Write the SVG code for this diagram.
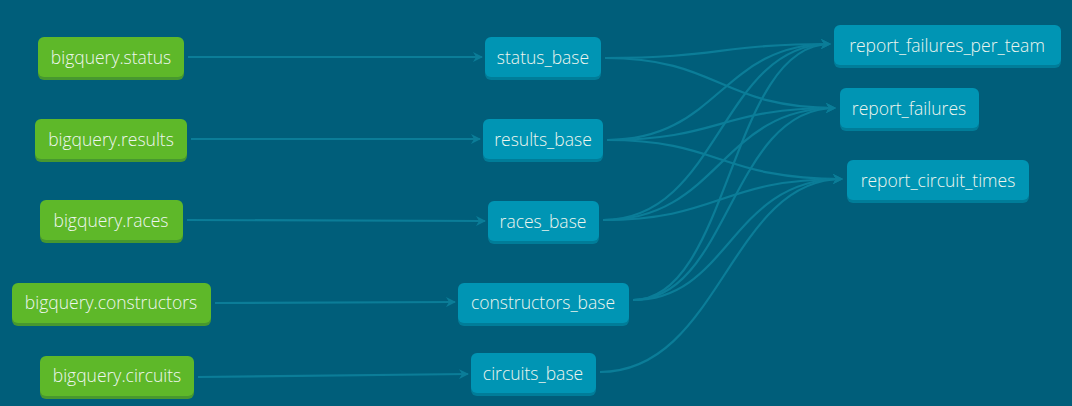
<svg xmlns="http://www.w3.org/2000/svg" width="1072" height="406" viewBox="0 0 1072 406">
<defs>
<style>
.src rect.b{fill:#5eb829}
.src rect.s{fill:#47982f}
.mdl rect.b{fill:#0095b4}
.mdl rect.s{fill:#007d99}
text{font-family:"Open Sans","Noto Sans",sans-serif;font-size:17.5px;font-weight:300;fill:#eef6ef;text-anchor:middle;dominant-baseline:central}
.e{fill:none;stroke:#0b7d98;stroke-width:2.2}
</style>
<marker id="arr" viewBox="0 0 10 10" refX="9" refY="5" markerWidth="10" markerHeight="10" markerUnits="userSpaceOnUse" orient="auto">
<path d="M0,0 L10,5 L0,10 L3,5 Z" fill="#0b7d98"/>
</marker>
</defs>
<rect width="1072" height="406" fill="#005e7a"/>
<g id="connectors">
<path class="e" marker-end="url(#arr)" d="M188,57 L482,57"/>
<path class="e" marker-end="url(#arr)" d="M191,139 L480,139"/>
<path class="e" marker-end="url(#arr)" d="M187,220 L485,221"/>
<path class="e" marker-end="url(#arr)" d="M215,303 L455,302"/>
<path class="e" marker-end="url(#arr)" d="M198,377 L468,374"/>
<path class="e" marker-end="url(#arr)" d="M605,58 C720,58 720,44 830,44"/>
<path class="e" marker-end="url(#arr)" d="M605,58 C720,58 720,108 835,108"/>
<path class="e" marker-end="url(#arr)" d="M607,140 C720,140 720,44 830,44"/>
<path class="e" marker-end="url(#arr)" d="M607,140 C720,140 720,108 835,108"/>
<path class="e" marker-end="url(#arr)" d="M607,140 C720,140 720,179 842,179"/>
<path class="e" marker-end="url(#arr)" d="M603,220 C720,220 720,44 830,44"/>
<path class="e" marker-end="url(#arr)" d="M603,220 C720,220 720,108 835,108"/>
<path class="e" marker-end="url(#arr)" d="M603,220 C720,220 720,179 842,179"/>
<path class="e" marker-end="url(#arr)" d="M633,300 C730,300 730,44 830,44"/>
<path class="e" marker-end="url(#arr)" d="M633,300 C730,300 730,108 835,108"/>
<path class="e" marker-end="url(#arr)" d="M633,300 C730,300 730,179 842,179"/>
<path class="e" marker-end="url(#arr)" d="M600,372 C720,372 730,179 842,179"/>
</g>
<g id="bigquery.status" class="src"><rect class="s" x="38" y="40" width="146" height="40" rx="6"/><rect class="b" x="38" y="37" width="146" height="40" rx="6"/><text x="111" y="57">bigquery.status</text></g>
<g id="bigquery.results" class="src"><rect class="s" x="35" y="122" width="152" height="40" rx="6"/><rect class="b" x="35" y="119" width="152" height="40" rx="6"/><text x="111" y="139">bigquery.results</text></g>
<g id="bigquery.races" class="src"><rect class="s" x="40" y="203" width="143" height="40" rx="6"/><rect class="b" x="40" y="200" width="143" height="40" rx="6"/><text x="111" y="220">bigquery.races</text></g>
<g id="bigquery.constructors" class="src"><rect class="s" x="12" y="286" width="199" height="40" rx="6"/><rect class="b" x="12" y="283" width="199" height="40" rx="6"/><text x="111" y="302">bigquery.constructors</text></g>
<g id="bigquery.circuits" class="src"><rect class="s" x="40" y="359" width="154" height="40" rx="6"/><rect class="b" x="40" y="356" width="154" height="40" rx="6"/><text x="117" y="375">bigquery.circuits</text></g>
<g id="status_base" class="mdl"><rect class="s" x="485" y="40" width="116" height="40" rx="6"/><rect class="b" x="485" y="37" width="116" height="40" rx="6"/><text x="543" y="57">status_base</text></g>
<g id="results_base" class="mdl"><rect class="s" x="483" y="122" width="120" height="40" rx="6"/><rect class="b" x="483" y="119" width="120" height="40" rx="6"/><text x="543" y="139">results_base</text></g>
<g id="races_base" class="mdl"><rect class="s" x="488" y="204" width="111" height="40" rx="6"/><rect class="b" x="488" y="201" width="111" height="40" rx="6"/><text x="543" y="221">races_base</text></g>
<g id="constructors_base" class="mdl"><rect class="s" x="458" y="286" width="171" height="40" rx="6"/><rect class="b" x="458" y="283" width="171" height="40" rx="6"/><text x="543" y="302">constructors_base</text></g>
<g id="circuits_base" class="mdl"><rect class="s" x="471" y="356" width="125" height="40" rx="6"/><rect class="b" x="471" y="353" width="125" height="40" rx="6"/><text x="533" y="373">circuits_base</text></g>
<g id="report_failures_per_team" class="mdl"><rect class="s" x="834" y="28" width="227" height="40" rx="6"/><rect class="b" x="834" y="25" width="227" height="40" rx="6"/><text x="947" y="45">report_failures_per_team</text></g>
<g id="report_failures" class="mdl"><rect class="s" x="840" y="91" width="139" height="40" rx="6"/><rect class="b" x="840" y="88" width="139" height="40" rx="6"/><text x="909" y="108">report_failures</text></g>
<g id="report_circuit_times" class="mdl"><rect class="s" x="847" y="163" width="182" height="40" rx="6"/><rect class="b" x="847" y="160" width="182" height="40" rx="6"/><text x="938" y="180">report_circuit_times</text></g>
</svg>
